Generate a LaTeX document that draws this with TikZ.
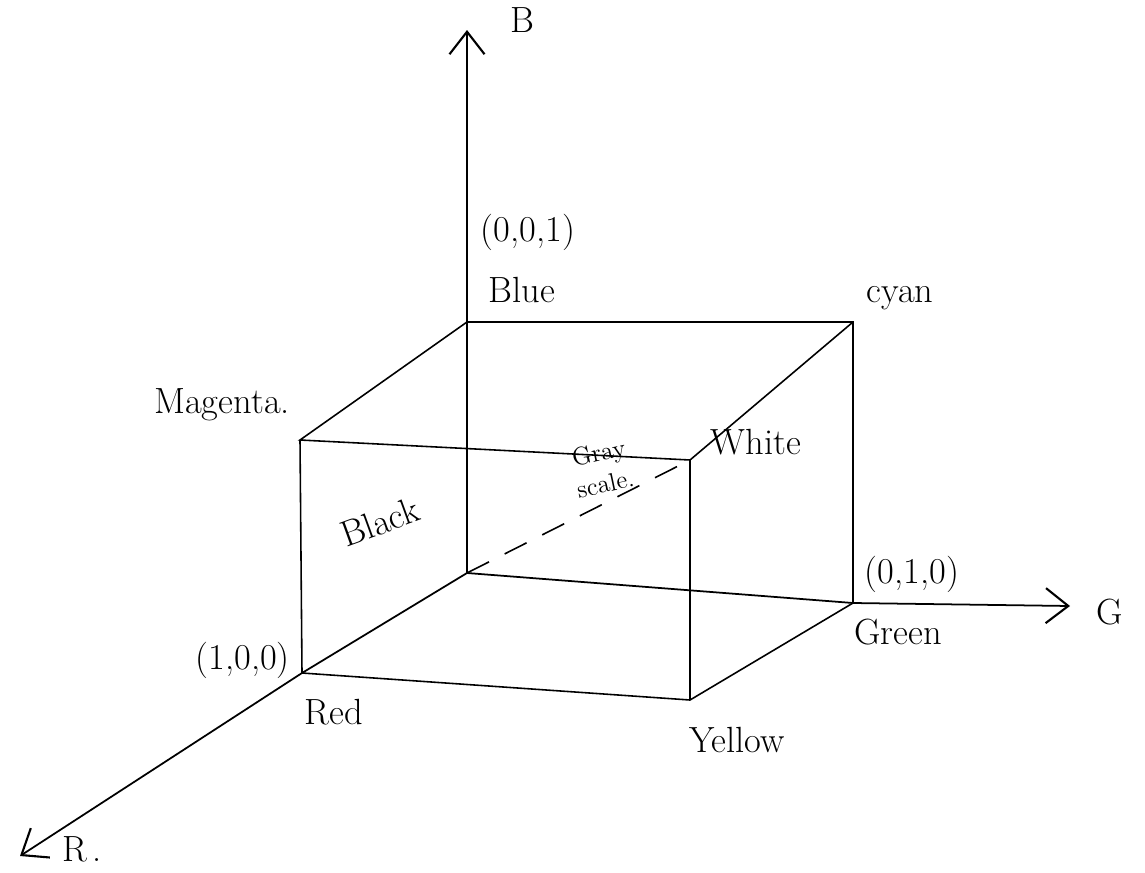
\documentclass[tikz,border=0pt]{standalone}
\usepackage{tikz}
\usetikzlibrary{arrows.meta,positioning}

\tikzset{
  edge/.style={line width=0.9pt},
  axis/.style={line width=1pt,-{Straight Barb[length=4.5mm,width=7mm,line width=1.2pt]}},
  lbl/.style={font=\huge, inner sep=1pt},
}

\begin{document}
\begin{tikzpicture}[x=0.02cm,y=-0.02cm]
  \useasboundingbox (0,0) rectangle (1145,872);
  % corners of the cube
  \coordinate (black)   at (467,573);
  \coordinate (blue)    at (467,322);
  \coordinate (cyan)    at (853,322);
  \coordinate (green)   at (853,603);
  \coordinate (red)     at (302,673);
  \coordinate (magenta) at (300,440);
  \coordinate (yellow)  at (690,700);
  \coordinate (white)   at (690,460);
  % axis ends
  \coordinate (btip) at (467,30);
  \coordinate (gtip) at (1070,606);
  \coordinate (rtip) at (20,856);
  % axes
  \draw[axis] (black) -- (btip);
  \draw[axis] (black) -- (green) -- (gtip);
  \draw[axis] (black) -- (red) -- (rtip);
  % cube edges
  \draw[edge] (blue) -- (cyan) -- (green);
  \draw[edge] (blue) -- (magenta) -- (white) -- (cyan);
  \draw[edge] (magenta) -- (red) -- (yellow) -- (green);
  \draw[edge] (white) -- (yellow);
  % gray scale diagonal
  \draw[edge, dash pattern=on 14pt off 10pt] (black) -- (white);
  % labels
  \node[lbl] (bname) at (522,20) {B};
  \node[lbl] (gname) at (1110,612) {G};
  \node[lbl, anchor=west] (rname) at (60,849) {R\,.};
  \node[lbl] (bluecoord) at (528,232) {(0,0,1)};
  \node[lbl] (bluename) at (522,290) {Blue};
  \node[lbl] (cyanname) at (900,298) {cyan};
  \node[lbl] (magname) at (222,405) {Magenta.};
  \node[lbl] (whitename) at (756,442) {White};
  \node[font=\Large, rotate=12, align=center, inner sep=1pt] (grayname) at (602,468) {Gray\\scale.};
  \node[lbl, rotate=20] (blackname) at (380,522) {Black};
  \node[lbl] (greencoord) at (912,574) {(0,1,0)};
  \node[lbl] (greenname) at (898,632) {Green};
  \node[lbl, anchor=east] (redcoord) at (292,660) {(1,0,0)};
  \node[lbl] (redname) at (334,712) {Red};
  \node[lbl] (yellowname) at (737,740) {Yellow};
\end{tikzpicture}
\end{document}
